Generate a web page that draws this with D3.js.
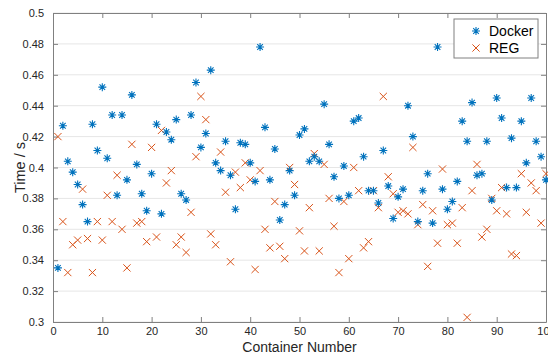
<!DOCTYPE html>
<html>
<head>
<meta charset="utf-8">
<script src="https://cdn.jsdelivr.net/npm/d3@7"></script>
<style>
  body { margin: 0; background: #fff; }
  svg { display: block; font-family: "Liberation Sans", Arial, sans-serif; }
</style>
</head>
<body>
<svg id="chart" width="548" height="355"></svg>
<script>
// Data (container 1..100)
const containers = d3.range(1, 101);
const dockerTimes = [
  0.335, 0.427, 0.404, 0.397, 0.389, 0.376, 0.365, 0.428, 0.411, 0.452,
  0.406, 0.434, 0.382, 0.434, 0.392, 0.447, 0.402, 0.383, 0.372, 0.396,
  0.428, 0.370, 0.423, 0.418, 0.431, 0.383, 0.379, 0.434, 0.455, 0.413,
  0.422, 0.463, 0.403, 0.398, 0.417, 0.395, 0.373, 0.416, 0.415, 0.403,
  0.391, 0.478, 0.426, 0.392, 0.412, 0.366, 0.376, 0.398, 0.382, 0.421,
  0.425, 0.404, 0.407, 0.404, 0.441, 0.415, 0.394, 0.380, 0.401, 0.382,
  0.430, 0.432, 0.407, 0.385, 0.385, 0.377, 0.411, 0.388, 0.367, 0.381,
  0.386, 0.440, 0.420, 0.365, 0.385, 0.396, 0.364, 0.478, 0.386, 0.373,
  0.378, 0.391, 0.430, 0.417, 0.442, 0.395, 0.396, 0.417, 0.379, 0.445,
  0.432, 0.387, 0.419, 0.387, 0.430, 0.403, 0.445, 0.417, 0.407, 0.392
];
const regTimes = [
  0.420, 0.365, 0.332, 0.350, 0.353, 0.386, 0.354, 0.332, 0.365, 0.353,
  0.382, 0.365, 0.395, 0.360, 0.335, 0.415, 0.364, 0.365, 0.352, 0.413,
  0.355, 0.424, 0.390, 0.398, 0.350, 0.355, 0.345, 0.371, 0.407, 0.446,
  0.431, 0.357, 0.350, 0.410, 0.384, 0.339, 0.397, 0.387, 0.403, 0.392,
  0.334, 0.398, 0.360, 0.348, 0.378, 0.349, 0.341, 0.400, 0.389, 0.359,
  0.346, 0.374, 0.409, 0.346, 0.402, 0.380, 0.362, 0.332, 0.378, 0.341,
  0.400, 0.385, 0.348, 0.352, 0.385, 0.374, 0.446, 0.394, 0.383, 0.371,
  0.372, 0.370, 0.413, 0.363, 0.376, 0.336, 0.372, 0.351, 0.399, 0.363,
  0.364, 0.351, 0.374, 0.303, 0.385, 0.402, 0.355, 0.360, 0.380, 0.372,
  0.387, 0.370, 0.344, 0.343, 0.396, 0.371, 0.390, 0.385, 0.364, 0.396
];
const xTicks = d3.range(0, 101, 10);
const yTicks = d3.range(0.30, 0.5001, 0.02);
const seriesNames = ["Docker", "REG"];

const width = 548, height = 355;
const margin = { top: 13, right: 2, bottom: 33, left: 53 };
const axisColor = "#808080";
const textColor = "#262626";
const colors = { Docker: "#0072BD", REG: "#D95319" };

const svg = d3.select("#chart");
const x = d3.scaleLinear().domain([0, 100]).range([margin.left, width - margin.right]);
const y = d3.scaleLinear().domain([0.3, 0.5]).range([height - margin.bottom, margin.top]);

// grid
svg.append("g")
  .selectAll("line")
  .data(yTicks)
  .join("line")
  .attr("x1", x(0)).attr("x2", x(100))
  .attr("y1", d => y(d)).attr("y2", d => y(d))
  .attr("stroke", "#e6e6e6")
  .attr("stroke-width", 1);

// axes
const fmt = d => +d.toFixed(2) + "";
const styleAxis = g => {
  g.select(".domain").attr("stroke", axisColor);
  g.selectAll(".tick line").attr("stroke", axisColor);
  g.selectAll(".tick text").attr("fill", textColor).attr("font-size", 11);
};
svg.append("g")
  .attr("transform", `translate(0,${y(0.3)})`)
  .call(d3.axisBottom(x).tickValues(xTicks).tickSize(-5).tickSizeOuter(0).tickPadding(5))
  .call(styleAxis);
svg.append("g")
  .attr("transform", `translate(0,${y(0.5)})`)
  .call(d3.axisTop(x).tickValues(xTicks).tickSize(-5).tickSizeOuter(0).tickFormat(""))
  .call(styleAxis);
svg.append("g")
  .attr("transform", `translate(${x(0)},0)`)
  .call(d3.axisLeft(y).tickValues(yTicks).tickSize(-5).tickSizeOuter(0).tickPadding(9).tickFormat(fmt))
  .call(styleAxis);
svg.append("g")
  .attr("transform", `translate(${x(100)},0)`)
  .call(d3.axisRight(y).tickValues(yTicks).tickSize(-5).tickSizeOuter(0).tickFormat(""))
  .call(styleAxis);

// markers
const star = (g, color) => {
  const r = 4;
  g.append("path")
    .attr("d", `M${-r},0H${r}M0,${-r}V${r}M${-r*0.7},${-r*0.7}L${r*0.7},${r*0.7}M${-r*0.7},${r*0.7}L${r*0.7},${-r*0.7}`)
    .attr("stroke", color).attr("stroke-width", 1.1).attr("fill", "none");
};
const cross = (g, color) => {
  const r = 3.6;
  g.append("path")
    .attr("d", `M${-r},${-r}L${r},${r}M${-r},${r}L${r},${-r}`)
    .attr("stroke", color).attr("stroke-width", 1).attr("fill", "none");
};

svg.append("g").selectAll("g")
  .data(containers)
  .join("g")
  .attr("transform", (d, i) => `translate(${x(d)},${y(regTimes[i])})`)
  .each(function () { cross(d3.select(this), colors.REG); });

svg.append("g").selectAll("g")
  .data(containers)
  .join("g")
  .attr("transform", (d, i) => `translate(${x(d)},${y(dockerTimes[i])})`)
  .each(function () { star(d3.select(this), colors.Docker); });

// labels
svg.append("text")
  .attr("x", (x(0) + x(100)) / 2).attr("y", 352)
  .attr("text-anchor", "middle").attr("font-size", 14).attr("fill", textColor)
  .text("Container Number");
svg.append("text")
  .attr("transform", `translate(25,${(y(0.3) + y(0.5)) / 2}) rotate(-90)`)
  .attr("text-anchor", "middle").attr("font-size", 14.5).attr("fill", textColor)
  .text("Time / s");

// legend
const legend = svg.append("g").attr("transform", "translate(454,19)");
legend.append("rect")
  .attr("width", 84).attr("height", 39)
  .attr("fill", "#fff").attr("stroke", axisColor);
seriesNames.forEach((name, i) => {
  const row = legend.append("g").attr("transform", `translate(22,${12 + i * 17})`);
  if (name === "Docker") star(row, colors.Docker); else cross(row, colors.REG);
  row.append("text")
    .attr("x", 13).attr("y", 5)
    .attr("font-size", 14).attr("fill", "#000")
    .text(name);
});
</script>
</body>
</html>
